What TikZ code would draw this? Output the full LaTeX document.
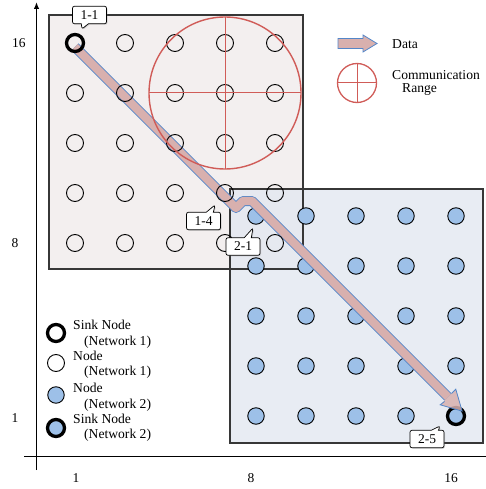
\documentclass[tikz,border=0pt]{standalone}
\usepackage{fontspec}
\setmainfont{Liberation Serif}
\usetikzlibrary{shapes.callouts,shadows,arrows.meta}
\definecolor{boxA}{RGB}{243,239,239}
\definecolor{boxB}{RGB}{228,233,241}
\definecolor{nodeB}{RGB}{157,192,232}
\definecolor{rng}{RGB}{208,92,88}
\definecolor{bandfill}{RGB}{216,176,174}
\definecolor{bandedge}{RGB}{84,134,200}
\definecolor{frame}{RGB}{55,55,55}
\begin{document}
\begin{tikzpicture}[x=1pt,y=-1pt,
  nodeA/.style={circle,draw=black,line width=0.9pt,minimum size=17pt,inner sep=0pt},
  nodeBst/.style={circle,draw=black,fill=nodeB,line width=0.9pt,minimum size=16.5pt,inner sep=0pt},
  sinkA/.style={circle,draw=black,line width=3.3pt,minimum size=17pt,inner sep=0pt},
  sinkB/.style={circle,draw=black,fill=nodeB,line width=3.3pt,minimum size=17pt,inner sep=0pt},
  tag/.style={rectangle callout,draw=black,fill=white,line width=0.7pt,rounded corners=2pt,
    minimum width=34pt,minimum height=17.5pt,inner sep=1pt,font=\fontsize{13.5}{14}\selectfont,
    drop shadow={opacity=0.3,shadow xshift=1pt,shadow yshift=-1pt}},
  axlab/.style={font=\fontsize{13.5}{14}\selectfont},
  legtxt/.style={anchor=west,inner sep=0pt,font=\fontsize{13.6}{14}\selectfont},
  frm/.style={draw=frame,line width=1.1pt},
  rngline/.style={draw=rng,line width=1pt},
]
\useasboundingbox (0,0) rectangle (485,489);

% boxes
\fill[boxA] (49,15) rectangle (303,269);
\fill[boxB,fill opacity=0.85] (230,189) rectangle (483,443);
\draw[frm] (49,15) rectangle (303,269);
\draw[frm] (230,189) rectangle (483,443);

% axes
\draw[line width=1.3pt,-{Latex[length=7pt,width=5.5pt]}] (36.5,470) -- (36.5,2);
\draw[line width=1.3pt] (24,456.5) -- (487,456.5);
\node[axlab] (y16) at (19,43) {16};
\node[axlab] (y8) at (15,243) {8};
\node[axlab] (y1) at (15,418) {1};
\node[axlab] (x1) at (76,478) {1};
\node[axlab] (x8) at (251,478) {8};
\node[axlab] (x16) at (451,478) {16};

% network 2 nodes
\foreach \r in {1,...,5}{\foreach \c in {1,...,5}{
  \ifnum\r\c=55 \node[sinkB] (b\r\c) at ({206+50*\c},{166+50*\r}) {};
  \else \node[nodeBst] (b\r\c) at ({206+50*\c},{166+50*\r}) {}; \fi
}}

% data band
\draw[bandedge,line width=10pt,line join=round,line cap=butt]
  (75,47) -- (236,208) -- (243,201) -- (252,201) -- (448,397);
\draw[bandfill,line width=8.4pt,line join=round,line cap=butt]
  (75,47) -- (236,208) -- (243,201) -- (252,201) -- (448,397);
\fill[bandfill,fill opacity=0.85] (455.8,389.2) -- (462.1,411.1) -- (440.2,404.8) -- cycle;
\draw[bandedge,line width=0.8pt,line join=miter]
  (451.5,393.5) -- (455.8,389.2) -- (462.1,411.1) -- (440.2,404.8) -- (444.5,401.5);

% network 1 nodes
\foreach \r in {1,...,5}{\foreach \c in {1,...,5}{
  \ifnum\r\c=11 \node[sinkA] (a\r\c) at ({25+50*\c},{-7+50*\r}) {};
  \else \node[nodeA] (a\r\c) at ({25+50*\c},{-7+50*\r}) {}; \fi
}}

% communication range
\draw[rngline,line width=1.4pt] (a24) circle[radius=76];
\draw[rngline] (149,93) -- (301,93);
\draw[rngline] (225,17) -- (225,169);

% callouts
\node[tag,callout absolute pointer={(82,29)}] (t11) at (89.5,15) {1-1};
\node[tag,callout absolute pointer={(215,205)}] (t14) at (203.5,221) {1-4};
\node[tag,callout absolute pointer={(253,228)}] (t21) at (243,246.5) {2-1};
\node[tag,callout absolute pointer={(440,426)}] (t25) at (427,439) {2-5};

% legend: data
\draw[bandedge,fill=bandfill,line width=0.8pt,line join=miter]
  (338,38.5) -- (363,38.5) -- (363,35) -- (377,43.5) -- (363,52) -- (363,48.5) -- (338,48.5) -- cycle;
\node[legtxt] (ldata) at (392,44) {Data};
% legend: range
\node[circle,draw=rng,line width=1.3pt,minimum size=39pt,inner sep=0pt] (lrng) at (357,83) {};
\draw[rngline] (lrng.west) -- (lrng.east);
\draw[rngline] (lrng.north) -- (lrng.south);
\node[legtxt] (lcomm) at (392,75) {Communication};
\node[legtxt] (lrange) at (402,90) {Range};

% legend: nodes
\node[sinkA] (ls1) at (56,333) {};
\node[legtxt] (ls1a) at (73,325) {Sink Node};
\node[legtxt] (ls1b) at (84,342) {(Network 1)};
\node[nodeA] (ln1) at (56,363) {};
\node[legtxt] (ln1a) at (73,356) {Node};
\node[legtxt] (ln1b) at (84,372) {(Network 1)};
\node[nodeBst] (ln2) at (56,395) {};
\node[legtxt] (ln2a) at (73,388) {Node};
\node[legtxt] (ln2b) at (84,405) {(Network 2)};
\node[sinkB] (ls2) at (56,428) {};
\node[legtxt] (ls2a) at (73,419) {Sink Node};
\node[legtxt] (ls2b) at (84,435) {(Network 2)};
\end{tikzpicture}
\end{document}
